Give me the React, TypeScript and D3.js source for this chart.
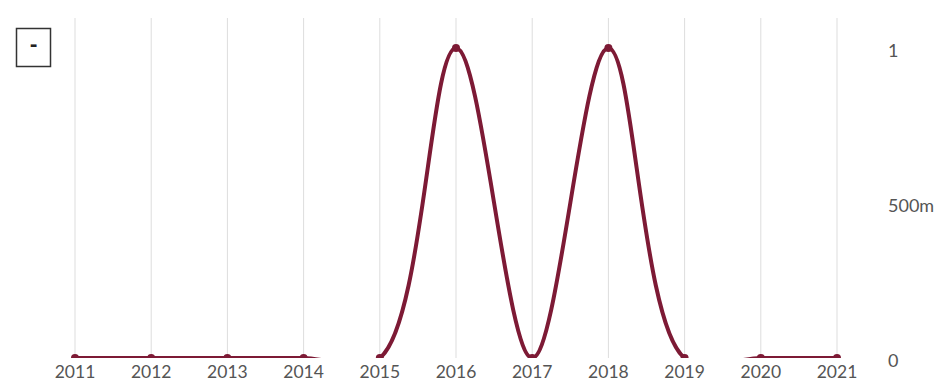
import React from "react";
import * as d3 from "d3";

const years = [2011, 2012, 2013, 2014, 2015, 2016, 2017, 2018, 2019, 2020, 2021];
const values = [0, 0, 0, 0, 0, 1, 0, 1, 0, 0, 0];
const yTicks = [0, 0.5, 1];
const yTickLabels = ["0", "500m", "1"];
const legendLabel = "-";

const W = 941;
const H = 382;
const plotTop = 18;
const plotBottom = 358;
const lineColor = "#7d1a35";
const font = "Lato, 'Open Sans', sans-serif";

export default function App() {
  const x = d3.scaleLinear().domain([2011, 2021]).range([75, 837]);
  const y = d3.scaleLinear().domain([0, 1]).range([plotBottom, 48]);
  const data = years.map((yr, i) => ({ yr, v: values[i] }));
  const line = d3
    .line<{ yr: number; v: number }>()
    .x((d) => x(d.yr))
    .y((d) => y(d.v))
    .curve(d3.curveCatmullRom.alpha(0.5));
  return (
    <svg
      width={W}
      height={H}
      style={{ position: "absolute", left: 0, top: 0, display: "block" }}
    >
      <defs>
        <clipPath id="plotclip">
          <rect x={0} y={plotTop} width={870} height={plotBottom - plotTop} />
        </clipPath>
      </defs>
      {years.map((yr) => (
        <line
          key={"g" + yr}
          x1={x(yr)}
          x2={x(yr)}
          y1={plotTop}
          y2={plotBottom}
          stroke="#dddddd"
          strokeWidth={1}
        />
      ))}
      <g clipPath="url(#plotclip)">
        <path d={line(data) || ""} fill="none" stroke={lineColor} strokeWidth={4} />
        {data.map((d) => (
          <circle key={"c" + d.yr} cx={x(d.yr)} cy={y(d.v)} r={4} fill={lineColor} />
        ))}
      </g>
      {years.map((yr) => (
        <text
          key={"t" + yr}
          x={x(yr)}
          y={378}
          textAnchor="middle"
          fontFamily={font}
          fontSize={17.5}
          fill="#555555"
        >
          {yr}
        </text>
      ))}
      {yTicks.map((t, i) => (
        <text
          key={"y" + t}
          x={888}
          y={y(t) + 8.5}
          fontFamily={font}
          fontSize={18}
          fill="#555555"
        >
          {yTickLabels[i]}
        </text>
      ))}
      <rect x={16.5} y={28.5} width={34} height={38} fill="#fff" stroke="#333" strokeWidth={1.5} />
      <text
        x={33.5}
        y={47.5}
        textAnchor="middle"
        dominantBaseline="middle"
        fontFamily={font}
        fontWeight="900"
        fontSize={22}
        fill="#222"
      >
        {legendLabel}
      </text>
    </svg>
  );
}
